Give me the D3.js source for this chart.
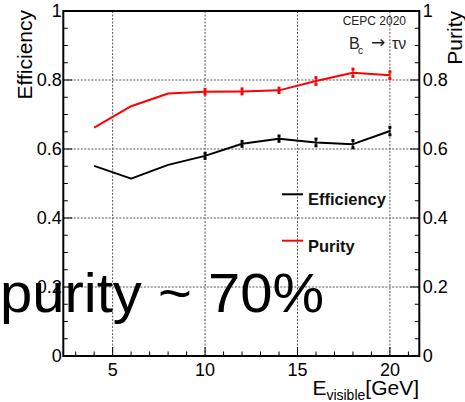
<!DOCTYPE html>
<html>
<head>
<meta charset="utf-8">
<script src="https://cdn.jsdelivr.net/npm/d3@7"></script>
<style>
  html, body { margin: 0; padding: 0; background: #fff; }
  svg { display: block; }
  text { font-family: "Liberation Sans", Arial, Helvetica, sans-serif; }
</style>
</head>
<body>
<svg id="chart" width="465" height="402"></svg>
<script>
// Visible energy bins (GeV)
const energy = [4, 6, 8, 10, 12, 14, 16, 18, 20];
// Selection efficiency and purity per bin
const efficiency = [0.551, 0.514, 0.554, 0.580, 0.615, 0.630, 0.619, 0.614, 0.652];
const purity     = [0.662, 0.724, 0.761, 0.766, 0.767, 0.770, 0.797, 0.821, 0.814];
// Statistical uncertainties (null where no bar is drawn)
const efficiencyErr = [null, null, null, 0.0072, 0.0072, 0.0077, 0.0097, 0.0106, 0.011];
const purityErr     = [null, null, null, 0.0068, 0.0072, 0.0063, 0.0097, 0.0106, 0.0097];
// Axis ticks
const xTicks = [5, 10, 15, 20];
const yTicks = [0, 0.2, 0.4, 0.6, 0.8, 1];
const yTickLabels = ["0", "0.2", "0.4", "0.6", "0.8", "1"];

const svg = d3.select("#chart");
const L = 63.3, R = 419.3, T = 11, B = 356;

const x = d3.scaleLinear().domain([2.33, 21.59]).range([L, R]);
const y = d3.scaleLinear().domain([0, 1]).range([B, T]);

// Grid
const grid = svg.append("g").attr("stroke", "#555").attr("stroke-width", 1)
  .attr("stroke-dasharray", "2,1.5");
grid.selectAll("line.v").data(xTicks).join("line").attr("class", "v")
  .attr("x1", d => x(d)).attr("x2", d => x(d)).attr("y1", T).attr("y2", B);
grid.selectAll("line.h").data(yTicks.filter(d => d > 0 && d < 1)).join("line").attr("class", "h")
  .attr("x1", L).attr("x2", R).attr("y1", d => y(d)).attr("y2", d => y(d));

// Inward ticks
const ticks = svg.append("g").attr("stroke", "#000").attr("stroke-width", 1);
const xMinor = d3.range(3, 22, 1);
ticks.selectAll("line.xt").data(xMinor).join("line").attr("class", "xt")
  .attr("x1", d => x(d)).attr("x2", d => x(d))
  .attr("y1", B).attr("y2", d => B - (d % 5 === 0 ? 9 : 4.5));
const yMinor = d3.range(0, 1.0001, 0.05);
const isMajor = d => Math.abs(d * 5 - Math.round(d * 5)) < 1e-6;
ticks.selectAll("line.yl").data(yMinor).join("line").attr("class", "yl")
  .attr("y1", d => y(d)).attr("y2", d => y(d))
  .attr("x1", L).attr("x2", d => L + (isMajor(d) ? 9 : 4.5));
ticks.selectAll("line.yr").data(yMinor).join("line").attr("class", "yr")
  .attr("y1", d => y(d)).attr("y2", d => y(d))
  .attr("x1", R).attr("x2", d => R - (isMajor(d) ? 9 : 4.5));

// Frame
svg.append("rect").attr("x", L).attr("y", T).attr("width", R - L).attr("height", B - T)
  .attr("fill", "none").attr("stroke", "#000").attr("stroke-width", 2);

// Tick labels
const fs = 18;
svg.append("g").selectAll("text").data(yTicks).join("text")
  .attr("x", L - 1.5).attr("y", d => y(d) + fs * 0.36)
  .attr("text-anchor", "end").attr("font-size", fs).text((d, i) => yTickLabels[i]);
svg.append("g").selectAll("text").data(yTicks).join("text")
  .attr("x", R + 3.5).attr("y", d => y(d) + fs * 0.36)
  .attr("text-anchor", "start").attr("font-size", fs).text((d, i) => yTickLabels[i]);
svg.append("g").selectAll("text").data(xTicks).join("text")
  .attr("x", d => x(d)).attr("y", 375.5)
  .attr("text-anchor", "middle").attr("font-size", fs).text(d => d);

// Axis titles
svg.append("text").attr("transform", "translate(32,10) rotate(-90)")
  .attr("text-anchor", "end").attr("font-size", 21).text("Efficiency");
svg.append("text").attr("transform", "translate(462,11) rotate(-90)")
  .attr("text-anchor", "end").attr("font-size", 21).text("Purity");
const xt = svg.append("text").attr("x", 419).attr("y", 395)
  .attr("text-anchor", "end").attr("font-size", 21);
xt.append("tspan").text("E");
xt.append("tspan").attr("font-size", 14).attr("dy", 5).text("visible");
xt.append("tspan").attr("dy", -5).text("[GeV]");

// Series
const series = [
  { name: "Efficiency", values: efficiency, errs: efficiencyErr, color: "#000" },
  { name: "Purity", values: purity, errs: purityErr, color: "#ff0000" }
];
const line = d3.line().x(d => x(d[0])).y(d => y(d[1]));
series.forEach(s => {
  const pts = energy.map((e, i) => [e, s.values[i], s.errs[i]]);
  svg.append("path").datum(pts).attr("d", line)
    .attr("fill", "none").attr("stroke", s.color).attr("stroke-width", 2)
    .attr("stroke-linejoin", "round");
  const eb = svg.append("g").attr("fill", s.color).attr("stroke", s.color);
  const withErr = pts.filter(p => p[2] != null);
  eb.selectAll("line").data(withErr).join("line")
    .attr("x1", p => x(p[0])).attr("x2", p => x(p[0]))
    .attr("y1", p => y(p[1] - p[2])).attr("y2", p => y(p[1] + p[2]))
    .attr("stroke-width", 1.2);
  eb.selectAll("rect.lo").data(withErr).join("rect").attr("class", "lo")
    .attr("x", p => x(p[0]) - 1.5).attr("y", p => y(p[1] - p[2]) - 1.5)
    .attr("width", 3).attr("height", 3).attr("stroke", "none");
  eb.selectAll("rect.hi").data(withErr).join("rect").attr("class", "hi")
    .attr("x", p => x(p[0]) - 1.5).attr("y", p => y(p[1] + p[2]) - 1.5)
    .attr("width", 3).attr("height", 3).attr("stroke", "none");
});

// Legend
const legendY = [194.3, 240.7];
series.forEach((s, i) => {
  svg.append("line").attr("x1", 282).attr("x2", 303)
    .attr("y1", legendY[i]).attr("y2", legendY[i])
    .attr("stroke", s.color).attr("stroke-width", 2);
  svg.append("text").attr("x", 308).attr("y", legendY[i] + 11)
    .attr("font-size", 16.5).attr("font-weight", "bold").attr("fill", "#111").text(s.name);
});

// Labels in the upper right
svg.append("text").attr("x", 406).attr("y", 25).attr("text-anchor", "end")
  .attr("font-size", 12).attr("fill", "#222").text("CEPC 2020");
const proc = svg.append("text").attr("y", 49).attr("font-size", 16).attr("fill", "#222");
proc.append("tspan").attr("x", 349).text("B");
proc.append("tspan").attr("x", 358).attr("y", 54).attr("font-size", 10).text("c");
proc.append("tspan").attr("x", 371).attr("y", 48).attr("font-family", "DejaVu Sans")
  .attr("font-size", 17).text("\u2192");
proc.append("tspan").attr("x", 392).attr("y", 49).text("\u03C4\u03BD");

// Summary note
svg.append("text").attr("x", 0).attr("y", 312).attr("font-size", 56)
  .attr("textLength", 324).attr("lengthAdjust", "spacingAndGlyphs")
  .attr("fill", "#000").text("purity ~ 70%");
</script>
</body>
</html>
